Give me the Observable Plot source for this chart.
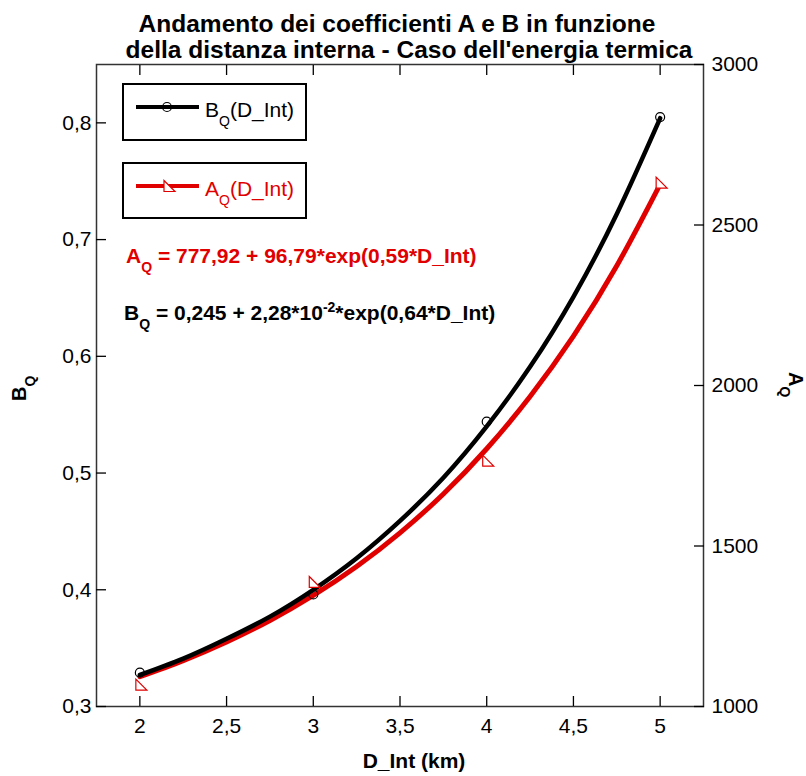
<!DOCTYPE html>
<html><head><meta charset="utf-8">
<script src="https://cdn.jsdelivr.net/npm/d3@7"></script>
<script src="https://cdn.jsdelivr.net/npm/@observablehq/plot@0.6"></script>
<style>body{margin:0;background:#fff} #chart svg{display:block}</style>
</head><body><div id="chart"></div>
<script>
// measured points
const pointsX = [2, 3, 4, 5];
const pointsB = [0.329, 0.396, 0.544, 0.805];
const pointsA = [1068, 1388, 1766, 2632];
// fitted curves
const fitX = [2, 2.25, 2.5, 2.75, 3, 3.25, 3.5, 3.75, 4, 4.25, 4.5, 4.75, 5];
const fitB = [0.327, 0.341, 0.358, 0.377, 0.400, 0.427, 0.459, 0.496, 0.540, 0.591, 0.651, 0.722, 0.804];
const fitA = [1093, 1143, 1201, 1268, 1346, 1436, 1541, 1662, 1803, 1966, 2154, 2373, 2627];
// ticks
const xTicks = [2, 2.5, 3, 3.5, 4, 4.5, 5];
const leftTicks = [0.3, 0.4, 0.5, 0.6, 0.7, 0.8];
const rightTicks = [1000, 1500, 2000, 2500, 3000];

const FONT = "'Liberation Sans', Arial, Helvetica, sans-serif";
const RED = "#e00000";
const bMin = 0.3, bMax = 0.85, aMin = 1000, aMax = 3000;
const toB = a => bMin + (a - aMin) * (bMax - bMin) / (aMax - aMin);
const fromB = b => aMin + (b - bMin) * (aMax - aMin) / (bMax - bMin);
const comma = d => String(d).replace(".", ",");

const fitData = fitX.map((x, i) => ({x, b: fitB[i], a: fitA[i]}));
const ptData = pointsX.map((x, i) => ({x, b: pointsB[i], a: pointsA[i]}));

const triangle = {draw(ctx) { ctx.moveTo(-4, -5.5); ctx.lineTo(7, 5.5); ctx.lineTo(-4, 5.5); ctx.closePath(); }};

const plot = Plot.plot({
  width: 806, height: 776,
  marginTop: 64, marginRight: 103, marginBottom: 70, marginLeft: 96,
  style: {fontFamily: FONT, fontSize: "21px", color: "#000", background: "#fff", overflow: "visible"},
  x: {domain: [1.75, 5.25]},
  y: {domain: [bMin, bMax]},
  marks: [
    Plot.frame({stroke: "#333", strokeWidth: 1.5}),
    Plot.axisX(xTicks, {anchor: "bottom", tickSize: -10, tickPadding: 22, tickFormat: comma, label: null, strokeWidth: 1.3}),
    Plot.axisX(xTicks, {anchor: "top", tickSize: -10, tickFormat: () => "", label: null, strokeWidth: 1.3}),
    Plot.axisY(leftTicks, {anchor: "left", tickSize: -10, tickPadding: 15, tickFormat: comma, label: null, strokeWidth: 1.3}),
    Plot.axisY(rightTicks.map(toB), {anchor: "right", tickSize: -10, tickPadding: 18, tickFormat: b => String(Math.round(fromB(b))), label: null, strokeWidth: 1.3}),
    Plot.line(fitData, {x: "x", y: d => toB(d.a), stroke: RED, strokeWidth: 5, curve: "natural"}),
    Plot.line(fitData, {x: "x", y: "b", stroke: "#000", strokeWidth: 4.5, curve: "natural"}),
    Plot.dot(ptData, {x: "x", y: "b", r: 4.5, stroke: "#000", fill: "none", strokeWidth: 1.2}),
    Plot.dot(ptData, {x: "x", y: d => toB(d.a), symbol: triangle, fill: "white", stroke: RED, strokeWidth: 1.2})
  ]
});
document.getElementById("chart").appendChild(plot);

const svg = d3.select(plot);
const g = svg.append("g").attr("font-family", FONT).attr("text-anchor", "start");

function rich(parent, x, y, parts, attrs = {}) {
  const t = parent.append("text").attr("x", x).attr("y", y).attr("text-anchor", "start");
  for (const [k, v] of Object.entries(attrs)) t.attr(k, v);
  let shift = 0;
  for (const p of parts) {
    const s = t.append("tspan").text(p.t);
    let target = 0, size = null;
    if (p.sub) { target = p.sub; size = p.size || 14; }
    if (p.sup) { target = -p.sup; size = p.size || 14; }
    s.attr("dy", target - shift);
    shift = target;
    if (size) s.attr("font-size", size);
  }
  return t;
}

// title
g.append("text").attr("x", 397).attr("y", 32).attr("text-anchor", "middle")
  .attr("font-size", 24.5).attr("font-weight", "bold")
  .text("Andamento dei coefficienti A e B in funzione");
g.append("text").attr("x", 409).attr("y", 58).attr("text-anchor", "middle")
  .attr("font-size", 24.5).attr("font-weight", "bold")
  .text("della distanza interna - Caso dell'energia termica");

// legend boxes
g.append("rect").attr("x", 123).attr("y", 84).attr("width", 183).attr("height", 56)
  .attr("fill", "white").attr("stroke", "#000").attr("stroke-width", 2);
g.append("line").attr("x1", 136).attr("x2", 199).attr("y1", 107).attr("y2", 107)
  .attr("stroke", "#000").attr("stroke-width", 4);
g.append("circle").attr("cx", 167).attr("cy", 107).attr("r", 4.5)
  .attr("fill", "none").attr("stroke", "#000").attr("stroke-width", 1.2);
rich(g, 205, 117, [{t: "B"}, {t: "Q", sub: 9}, {t: "(D_Int)"}], {"font-size": 21, fill: "#000"});

g.append("rect").attr("x", 123).attr("y", 163).attr("width", 183).attr("height", 55)
  .attr("fill", "white").attr("stroke", "#000").attr("stroke-width", 2);
g.append("line").attr("x1", 136).attr("x2", 199).attr("y1", 186).attr("y2", 186)
  .attr("stroke", RED).attr("stroke-width", 4);
g.append("path").attr("transform", "translate(168,186)")
  .attr("d", "M-4,-5.5L7,5.5L-4,5.5Z")
  .attr("fill", "white").attr("stroke", RED).attr("stroke-width", 1.2);
rich(g, 205, 196, [{t: "A"}, {t: "Q", sub: 9}, {t: "(D_Int)"}], {"font-size": 21, fill: RED});

// equations
rich(g, 126, 263, [{t: "A"}, {t: "Q", sub: 9}, {t: " = 777,92 + 96,79*exp(0,59*D_Int)"}],
  {"font-size": 21, "font-weight": "bold", fill: RED});
rich(g, 124, 320, [{t: "B"}, {t: "Q", sub: 9}, {t: " = 0,245 + 2,28*10"}, {t: "-2", sup: 8}, {t: "*exp(0,64*D_Int)"}],
  {"font-size": 21, "font-weight": "bold", fill: "#000"});

// axis labels
g.append("text").attr("x", 414).attr("y", 768).attr("text-anchor", "middle")
  .attr("font-size", 21).attr("font-weight", "bold").text("D_Int (km)");
rich(g, 0, 0, [{t: "B"}, {t: "Q", sub: 9}], {"font-size": 20, "font-weight": "bold", transform: "translate(26,401) rotate(-90)"});
rich(g, 0, 0, [{t: "A"}, {t: "Q", sub: 9}], {"font-size": 20, "font-weight": "bold", transform: "translate(789,372) rotate(90)"});
</script>
</body></html>
